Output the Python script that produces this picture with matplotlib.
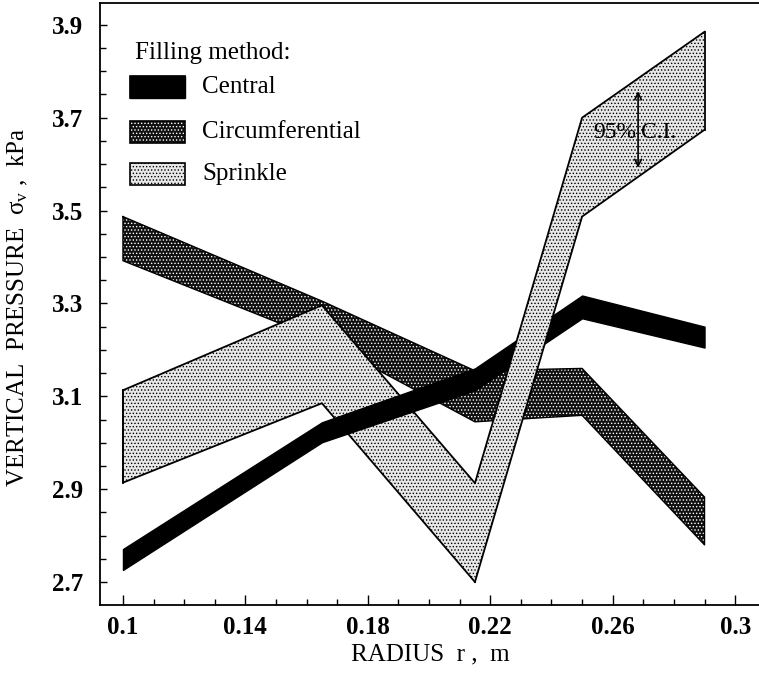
import numpy as np
import matplotlib
matplotlib.use('Agg')
import matplotlib.pyplot as plt
from matplotlib.patches import Rectangle
from matplotlib.ticker import MultipleLocator, FixedLocator, FixedFormatter

# ---- data ----
radius = [0.100, 0.165, 0.215, 0.250, 0.290]
central_upper = [2.771, 3.044, 3.160, 3.317, 3.250]
central_lower = [2.726, 3.001, 3.113, 3.268, 3.205]
circ_upper = [3.487, 3.305, 3.155, 3.160, 2.883]
circ_lower = [3.392, 3.221, 3.045, 3.059, 2.780]
sprinkle_upper = [3.113, 3.296, 2.913, 3.700, 3.885]
sprinkle_lower = [2.914, 3.085, 2.700, 3.487, 3.674]

xticks = [0.10, 0.14, 0.18, 0.22, 0.26, 0.30]
xticklabels = ['0.1', '0.14', '0.18', '0.22', '0.26', '0.3']
yticks = [2.7, 2.9, 3.1, 3.3, 3.5, 3.7, 3.9]
yticklabels = ['2.7', '2.9', '3.1', '3.3', '3.5', '3.7', '3.9']
series_names = ['Central', 'Circumferential', 'Sprinkle']

plt.rcParams['font.family'] = ['Liberation Serif', 'DejaVu Serif']
plt.rcParams['mathtext.fontset'] = 'custom'
plt.rcParams['mathtext.rm'] = 'Liberation Serif'
plt.rcParams['mathtext.it'] = 'Liberation Serif'
plt.rcParams['hatch.linewidth'] = 0.6

fig = plt.figure(figsize=(7.59, 6.76), dpi=100)
ax = fig.add_axes([100/759, 1-605/676, 659/759, 602/676])

x = np.array(radius)
cu, cl = np.array(central_upper), np.array(central_lower)
ru, rl = np.array(circ_upper), np.array(circ_lower)
su, sl = np.array(sprinkle_upper), np.array(sprinkle_lower)

circ_style = dict(facecolor='#101010', edgecolor='white', hatch='.....', linewidth=0)
spr_style = dict(facecolor='#e8e8e8', edgecolor='black', hatch='.....', linewidth=0)

# Circumferential (bottom)
ax.fill_between(x, rl, ru, zorder=1, **circ_style)
ax.plot(np.r_[x, x[::-1], x[:1]], np.r_[ru, rl[::-1], ru[:1]], color='black', lw=1.0, zorder=1.1)

# Sprinkle, left part (below central)
ax.fill_between(x[:3], sl[:3], su[:3], zorder=2, **spr_style)
ax.plot(np.r_[x[2::-1], x[:3]], np.r_[su[2::-1], sl[:3]], color='black', lw=1.3, zorder=2.1)
ax.plot([x[0], x[0]], [sl[0], su[0]], color='black', lw=1.3, zorder=2.1)

# Central (solid black)
ax.fill_between(x, cl, cu, facecolor='black', edgecolor='black', linewidth=1.0, zorder=3)

# Sprinkle, right part (above central)
ax.fill_between(x[2:], sl[2:], su[2:], zorder=4, **spr_style)
ax.plot(x[2:], su[2:], color='black', lw=1.3, zorder=4.1)
ax.plot(x[2:], sl[2:], color='black', lw=1.3, zorder=4.1)
ax.plot([x[-1], x[-1]], [sl[-1], su[-1]], color='black', lw=1.3, zorder=4.1)

# 95% C.I. annotation
ci_x = 0.2683
ax.annotate('', xy=(ci_x, 3.757), xytext=(ci_x, 3.592),
            arrowprops=dict(arrowstyle='<->', lw=1.2, color='black',
                            shrinkA=0, shrinkB=0, mutation_scale=12), zorder=6)
ax.text(ci_x - 0.0006, 3.668, '95%', ha='right', va='center', fontsize=17, zorder=6)
ax.text(ci_x + 0.0008, 3.668, 'C.I.', ha='left', va='center', fontsize=17, zorder=6)

# axes limits and ticks
ax.set_xlim(0.0925, 0.3078)
ax.set_ylim(2.6505, 3.947)
ax.xaxis.set_major_locator(FixedLocator(xticks))
ax.xaxis.set_major_formatter(FixedFormatter(xticklabels))
ax.xaxis.set_minor_locator(MultipleLocator(0.01))
ax.yaxis.set_major_locator(FixedLocator(yticks))
ax.yaxis.set_major_formatter(FixedFormatter(yticklabels))
ax.yaxis.set_minor_locator(MultipleLocator(0.05))
ax.tick_params(axis='x', which='major', direction='in', length=7, width=1.0, pad=8,
               labelsize=18)
ax.tick_params(axis='x', which='minor', direction='in', length=4, width=1.0)
ax.tick_params(axis='y', which='major', direction='in', length=5, width=1.0, pad=12,
               labelsize=18)
ax.tick_params(axis='y', which='minor', direction='in', length=4, width=1.0)
for lab in ax.get_xticklabels() + ax.get_yticklabels():
    lab.set_fontweight('bold')
ax.spines['right'].set_visible(False)
for s in ['left', 'bottom', 'top']:
    ax.spines[s].set_linewidth(1.3)

# axis labels
fig.text(430/759, 1-654/676, 'RADIUS  r ,  m', ha='center', va='center', fontsize=18)
fig.text(18/759, 1-307/676, r'VERTICAL  PRESSURE  $\sigma_{\rm v}$ ,  kPa', ha='center',
         va='center', rotation=90, fontsize=18)

# legend (manual)
def fx(px):
    return (px - 100) / 659

def fy(py):
    return (605 - py) / 602

ax.text(fx(135), fy(53), 'Filling method:', transform=ax.transAxes, ha='left',
        va='center', fontsize=18)
key_styles = [dict(facecolor='black', edgecolor='black', linewidth=1.0),
              dict(facecolor='#101010', edgecolor='white', hatch='.....', linewidth=0),
              dict(facecolor='#e8e8e8', edgecolor='black', hatch='.....', linewidth=0)]
key_centers = [87, 132, 174]
for name, st, cy in zip(series_names, key_styles, key_centers):
    r = Rectangle((fx(130), fy(cy + 11)), fx(185) - fx(130), 22/602,
                  transform=ax.transAxes, zorder=5, **st)
    ax.add_patch(r)
    r2 = Rectangle((fx(130), fy(cy + 11)), fx(185) - fx(130), 22/602,
                   transform=ax.transAxes, zorder=5.1, facecolor='none',
                   edgecolor='black', linewidth=1.2)
    ax.add_patch(r2)
    ax.text(fx(202), fy(cy), name, transform=ax.transAxes, ha='left', va='center',
            fontsize=18, zorder=5)

fig.savefig('out.png', dpi=100)
